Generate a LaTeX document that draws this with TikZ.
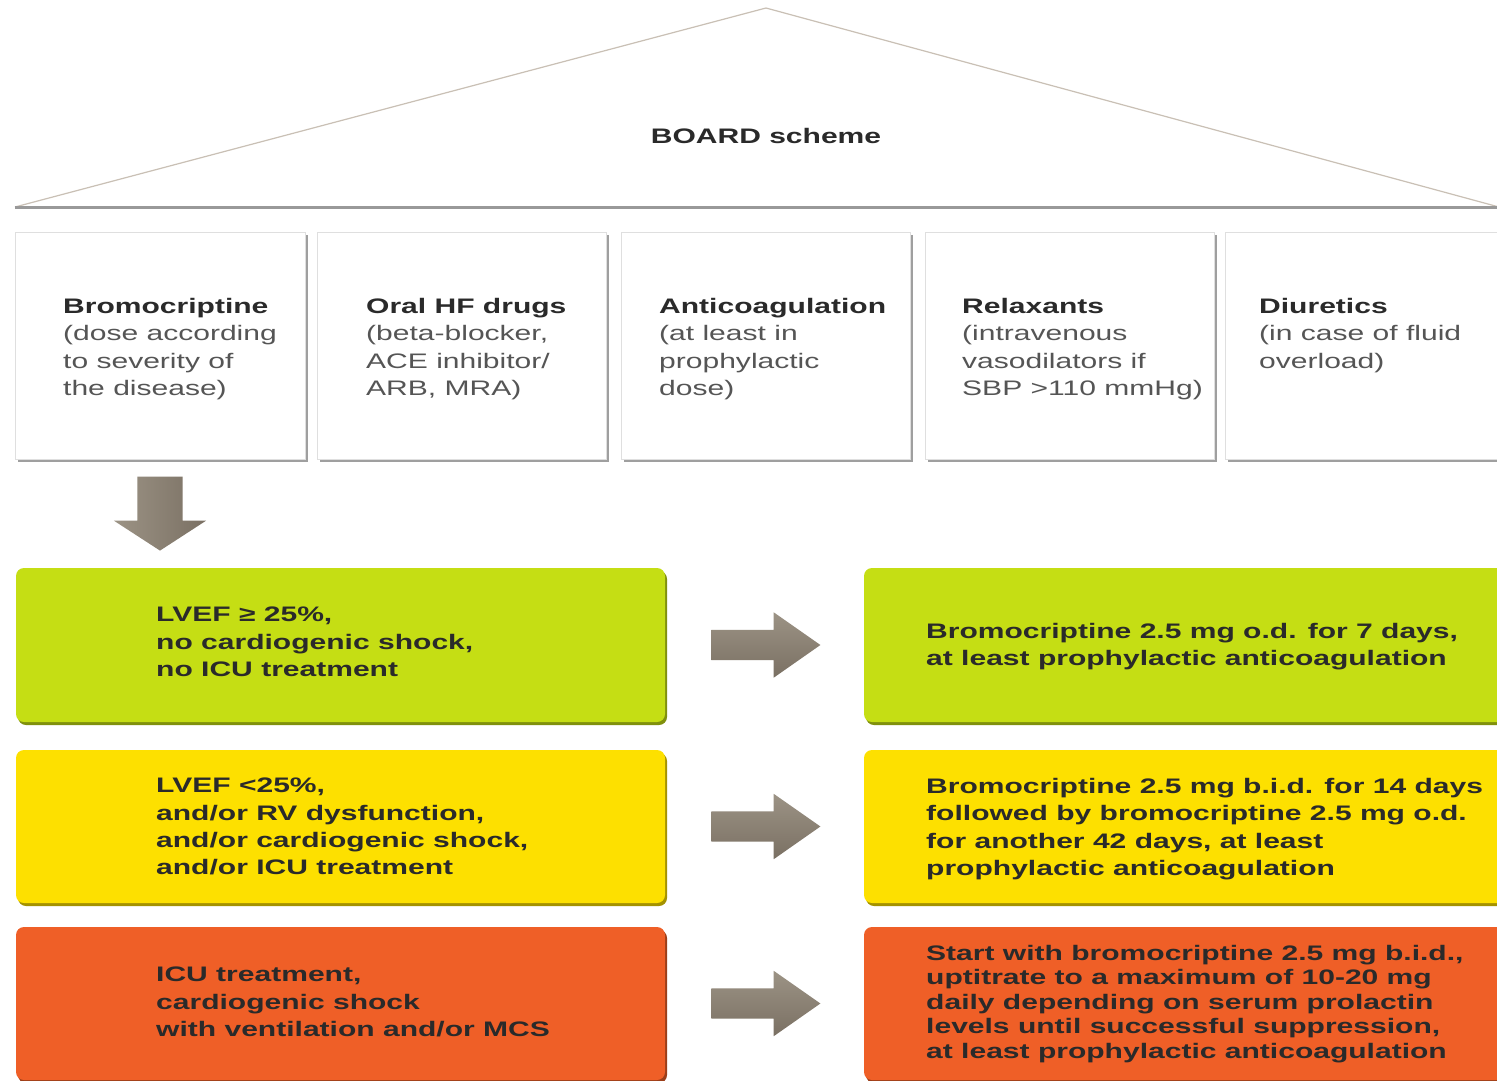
\documentclass[tikz,border=0pt]{standalone}
\usepackage{fontspec}
\setmainfont{Liberation Sans}[FakeStretch=1.43]
\usetikzlibrary{shadows,shapes.arrows,calc}
\definecolor{limeg}{HTML}{C5DE14}
\definecolor{yel}{HTML}{FDE000}
\definecolor{ora}{HTML}{EF5F27}
\definecolor{roof}{HTML}{C9C0B5}
\definecolor{darktxt}{HTML}{2A2A2A}
\definecolor{greytxt}{HTML}{555555}
\definecolor{arrowA}{HTML}{9C9385}
\definecolor{arrowB}{HTML}{7A7063}
\begin{document}
\begin{tikzpicture}[x=1pt,y=-1pt,
  pillar/.style={draw=gray!25, line width=0.8pt, fill=white,
    drop shadow={shadow xshift=3pt, shadow yshift=-3pt, fill=gray!75, opacity=1},
    minimum height=227, inner sep=0},
  cbox/.style={rounded corners=8pt, inner sep=0, fill=#1,
    drop shadow={shadow xshift=2pt, shadow yshift=-3pt, fill=#1!65!black, opacity=1}},
  txt/.style={anchor=north west, align=left, inner sep=0, text=darktxt,
    font=\fontsize{21}{27.3}\selectfont\bfseries},
  ptxt/.style={anchor=north west, align=left, inner sep=0, text=greytxt,
    font=\fontsize{21}{27.3}\selectfont},
  blockarrow/.style={single arrow, draw=none, top color=arrowA, bottom color=arrowB,
    inner xsep=0, single arrow head indent=0},
  rarrow/.style={blockarrow, minimum height=109, inner ysep=15,
    single arrow head extend=17.5, single arrow tip angle=70, anchor=tail},
]
\clip (0,0) rectangle (1497,1081);
\fill[white] (0,0) rectangle (1497,1081);

% roof
\coordinate (apex) at (766,8);
\coordinate (eaveL) at (15,207);
\coordinate (eaveR) at (1510,210);
\draw[roof, line width=1.2pt] (eaveL) -- (apex) -- (eaveR);
\draw[gray!80, line width=3pt] (eaveL) -- (1510,207);
\node[font=\fontsize{21}{25}\selectfont\bfseries, text=darktxt] (title) at (766,136) {BOARD scheme};

% pillars
\node[pillar, minimum width=290] (p1) at (160,345.5) {};
\node[pillar, minimum width=289] (p2) at (461.5,345.5) {};
\node[pillar, minimum width=289] (p3) at (765.5,345.5) {};
\node[pillar, minimum width=289] (p4) at (1069.5,345.5) {};
\node[pillar, minimum width=285] (p5) at (1367.5,345.5) {};

\node[ptxt] (t1) at (63,298) {{\bfseries\color{darktxt}Bromocriptine}\\(dose according\\to severity of\\the disease)};
\node[ptxt] (t2) at (366,298) {{\bfseries\color{darktxt}Oral HF drugs}\\(beta-blocker,\\ACE inhibitor/\\ARB, MRA)};
\node[ptxt] (t3) at (659,298) {{\bfseries\color{darktxt}Anticoagulation}\\(at least in\\prophylactic\\dose)};
\node[ptxt] (t4) at (962,298) {{\bfseries\color{darktxt}Relaxants}\\(intravenous\\vasodilators if\\SBP >110 mmHg)};
\node[ptxt] (t5) at (1259,298) {{\bfseries\color{darktxt}Diuretics}\\(in case of fluid\\overload)};

% coloured boxes
\node[cbox=limeg, minimum width=649, minimum height=154] (g1) at (340.5,645) {};
\node[cbox=limeg, minimum width=646, minimum height=154] (g2) at (1187,645) {};
\node[cbox=yel, minimum width=649, minimum height=153] (y1) at (340.5,826.5) {};
\node[cbox=yel, minimum width=646, minimum height=153] (y2) at (1187,826.5) {};
\node[cbox=ora, minimum width=649, minimum height=153] (o1) at (340.5,1003.5) {};
\node[cbox=ora, minimum width=646, minimum height=153] (o2) at (1187,1003.5) {};

\node[txt] (gt1) at (156,607) {LVEF ≥ 25\%,\\no cardiogenic shock,\\no ICU treatment};
\node[txt] (gt2) at (926,623) {Bromocriptine 2.5 mg o.d. for 7 days,\\at least prophylactic anticoagulation};
\node[txt] (yt1) at (156,778) {LVEF <25\%,\\and/or RV dysfunction,\\and/or cardiogenic shock,\\and/or ICU treatment};
\node[txt] (yt2) at (926,778) {Bromocriptine 2.5 mg b.i.d. for 14 days\\followed by bromocriptine 2.5 mg o.d.\\for another 42 days, at least\\prophylactic anticoagulation};
\node[txt] (ot1) at (156,967) {ICU treatment,\\cardiogenic shock\\with ventilation and/or MCS};
\node[txt, font=\fontsize{21}{24.5}\selectfont\bfseries] (ot2) at (926,945) {Start with bromocriptine 2.5 mg b.i.d.,\\uptitrate to a maximum of 10-20 mg\\daily depending on serum prolactin\\levels until successful suppression,\\at least prophylactic anticoagulation};

% arrows
\node[blockarrow, minimum height=74, inner ysep=22.5, single arrow head extend=23.5,
  single arrow tip angle=114, rotate=-90, anchor=tail, left color=arrowA, right color=arrowB] (down)
  at ($(p1.south)+(0,17)$) {};
\node[rarrow] (a1) at ($(g1.east)+(46,0)$) {};
\node[rarrow] (a2) at ($(y1.east)+(46,0)$) {};
\node[rarrow] (a3) at ($(o1.east)+(46,0)$) {};
\end{tikzpicture}
\end{document}
